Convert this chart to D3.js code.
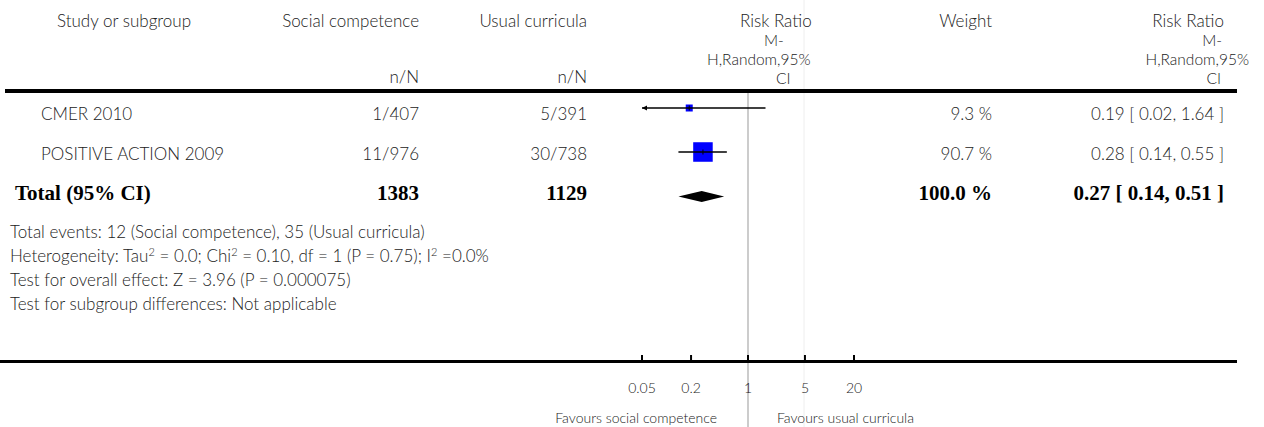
<!DOCTYPE html>
<html>
<head>
<meta charset="utf-8">
<script src="https://cdn.jsdelivr.net/npm/d3@7"></script>
<style>
  body { margin: 0; background: #fff; }
  text { font-family: Lato, "DejaVu Sans", sans-serif; font-weight: 300; font-size: 17px; fill: #222; }
  .bold { font-family: "Liberation Serif", serif; font-weight: bold; font-size: 21px; fill: #000; }
  .small { font-size: 14px; }
  .rr { font-size: 15.5px; }
</style>
</head>
<body>
<svg id="forest" width="1264" height="427"></svg>
<script>
// data
const studies = ["CMER 2010", "POSITIVE ACTION 2009"];
const eventsT = [1, 11], totalT = [407, 976];
const eventsC = [5, 30], totalC = [391, 738];
const rr = [0.19, 0.28], lo = [0.02, 0.14], hi = [1.64, 0.55];
const weights = [9.3, 90.7];
const pooled = { rr: 0.27, lo: 0.14, hi: 0.51, nT: 1383, nC: 1129, w: 100.0 };
const tickValues = [0.05, 0.2, 1, 5, 20];
const tickLabels = ["0.05", "0.2", "1", "5", "20"];

const svg = d3.select("#forest");

const x = d3.scaleLog().domain([0.05, 20]).range([642, 854]);
const side = d3.scaleSqrt().domain([0, 100]).range([0, 20.5]);

const rowBase = [120, 160];   // text baselines
const rowMark = [108, 152];   // marker centres
const totalBase = 200, totalMark = 196.5;

// faint column border and line of no effect
svg.append("line").attr("x1", 804).attr("x2", 804).attr("y1", 0).attr("y2", 427)
  .attr("stroke", "#eee").attr("stroke-width", 1);
svg.append("line").attr("x1", x(1)).attr("x2", x(1)).attr("y1", 93).attr("y2", 427)
  .attr("stroke", "#999").attr("stroke-width", 1);

// header
const hdr = svg.append("g");
hdr.append("text").attr("x", 57).attr("y", 27).text("Study or subgroup");
hdr.append("text").attr("x", 419).attr("y", 27).attr("text-anchor", "end").text("Social competence");
hdr.append("text").attr("x", 587).attr("y", 27).attr("text-anchor", "end").text("Usual curricula");
hdr.append("text").attr("x", 419).attr("y", 83).attr("text-anchor", "end").text("n/N");
hdr.append("text").attr("x", 587).attr("y", 83).attr("text-anchor", "end").text("n/N");
hdr.append("text").attr("x", 992).attr("y", 27).attr("text-anchor", "end").text("Weight");
[["Risk Ratio", 740, 27], ["M-", 764, 45.5], ["H,Random,95%", 707, 64.5], ["CI", 776, 83.5]]
  .forEach(([t, xx, yy], k) => hdr.append("text").attr("class", k ? "rr" : null)
    .attr("x", xx).attr("y", yy).text(t));
[["Risk Ratio", 1224, 27], ["M-", 1222, 45.5], ["H,Random,95%", 1249, 64.5], ["CI", 1221, 83.5]]
  .forEach(([t, xx, yy], k) => hdr.append("text").attr("class", k ? "rr" : null)
    .attr("x", xx).attr("y", yy).attr("text-anchor", "end").text(t));

svg.append("line").attr("x1", 5).attr("x2", 1237).attr("y1", 91).attr("y2", 91)
  .attr("stroke", "#000").attr("stroke-width", 4);

// study rows
const fmt = d3.format(".2f");
const rows = svg.append("g").selectAll("g").data(studies).join("g");
rows.append("text").attr("x", 41).attr("y", (d, i) => rowBase[i]).text(d => d);
rows.append("text").attr("x", 419).attr("y", (d, i) => rowBase[i]).attr("text-anchor", "end")
  .text((d, i) => `${eventsT[i]}/${totalT[i]}`);
rows.append("text").attr("x", 587).attr("y", (d, i) => rowBase[i]).attr("text-anchor", "end")
  .text((d, i) => `${eventsC[i]}/${totalC[i]}`);
rows.append("text").attr("x", 992).attr("y", (d, i) => rowBase[i]).attr("text-anchor", "end")
  .text((d, i) => `${weights[i].toFixed(1)} %`);
rows.append("text").attr("x", 1224).attr("y", (d, i) => rowBase[i]).attr("text-anchor", "end")
  .text((d, i) => `${fmt(rr[i])} [ ${fmt(lo[i])}, ${fmt(hi[i])} ]`);

// squares first, then CI line and centre tick on top
const [dMin, dMax] = x.domain();
const sz = i => Math.max(side(weights[i]), 7);
rows.append("rect")
  .attr("x", (d, i) => x(rr[i]) - sz(i) / 2)
  .attr("y", (d, i) => rowMark[i] - sz(i) / 2)
  .attr("width", (d, i) => sz(i))
  .attr("height", (d, i) => sz(i))
  .attr("fill", "#0000ff");
rows.append("line")
  .attr("x1", (d, i) => x(Math.max(lo[i], dMin)))
  .attr("x2", (d, i) => x(Math.min(hi[i], dMax)))
  .attr("y1", (d, i) => rowMark[i]).attr("y2", (d, i) => rowMark[i])
  .attr("stroke", "#000").attr("stroke-width", 1.3);
rows.append("line")
  .attr("x1", (d, i) => x(rr[i])).attr("x2", (d, i) => x(rr[i]))
  .attr("y1", (d, i) => rowMark[i] - 2.5).attr("y2", (d, i) => rowMark[i] + 2.5)
  .attr("stroke", "#000").attr("stroke-width", 1);
rows.filter((d, i) => lo[i] < dMin).append("path")
  .attr("d", (d, i) => {
    const x0 = x(dMin), y0 = rowMark[i];
    return `M${x0},${y0}L${x0 + 5},${y0 - 2.5}L${x0 + 5},${y0 + 2.5}Z`;
  })
  .attr("fill", "#000");

// total row
svg.append("text").attr("class", "bold").attr("x", 15).attr("y", totalBase).text("Total (95% CI)");
svg.append("text").attr("class", "bold").attr("x", 419).attr("y", totalBase).attr("text-anchor", "end").text(pooled.nT);
svg.append("text").attr("class", "bold").attr("x", 587).attr("y", totalBase).attr("text-anchor", "end").text(pooled.nC);
svg.append("text").attr("class", "bold").attr("x", 992).attr("y", totalBase).attr("text-anchor", "end")
  .text(`${pooled.w.toFixed(1)} %`);
svg.append("text").attr("class", "bold").attr("x", 1224).attr("y", totalBase).attr("text-anchor", "end")
  .text(`${fmt(pooled.rr)} [ ${fmt(pooled.lo)}, ${fmt(pooled.hi)} ]`);
svg.append("path")
  .attr("d", `M${x(pooled.lo)},${totalMark}L${x(pooled.rr)},${totalMark - 5.5}L${x(pooled.hi)},${totalMark}L${x(pooled.rr)},${totalMark + 5.5}Z`)
  .attr("fill", "#000");

// footnotes
const notes = svg.append("g");
notes.append("text").attr("x", 10).attr("y", 238).text("Total events: 12 (Social competence), 35 (Usual curricula)");
const het = notes.append("text").attr("x", 10).attr("y", 262);
het.append("tspan").text("Heterogeneity: Tau");
het.append("tspan").attr("baseline-shift", "super").attr("font-size", "11px").text("2");
het.append("tspan").text(" = 0.0; Chi");
het.append("tspan").attr("baseline-shift", "super").attr("font-size", "11px").text("2");
het.append("tspan").text(" = 0.10, df = 1 (P = 0.75); I");
het.append("tspan").attr("baseline-shift", "super").attr("font-size", "11px").text("2");
het.append("tspan").text(" =0.0%");
notes.append("text").attr("x", 10).attr("y", 286).text("Test for overall effect: Z = 3.96 (P = 0.000075)");
notes.append("text").attr("x", 10).attr("y", 310).text("Test for subgroup differences: Not applicable");

// axis
svg.append("line").attr("x1", 0).attr("x2", 1237).attr("y1", 361.5).attr("y2", 361.5)
  .attr("stroke", "#000").attr("stroke-width", 3);
const axis = svg.append("g").selectAll("g").data(tickValues).join("g")
  .attr("transform", d => `translate(${x(d)},0)`);
axis.append("line").attr("y1", 355).attr("y2", 361).attr("stroke", "#000").attr("stroke-width", 2);
axis.append("text").attr("class", "small").attr("y", 393).attr("text-anchor", "middle")
  .text((d, i) => tickLabels[i]);

svg.append("text").attr("class", "small").attr("x", 717).attr("y", 423).attr("text-anchor", "end")
  .text("Favours social competence");
svg.append("text").attr("class", "small").attr("x", 777).attr("y", 423)
  .text("Favours usual curricula");
</script>
</body>
</html>
